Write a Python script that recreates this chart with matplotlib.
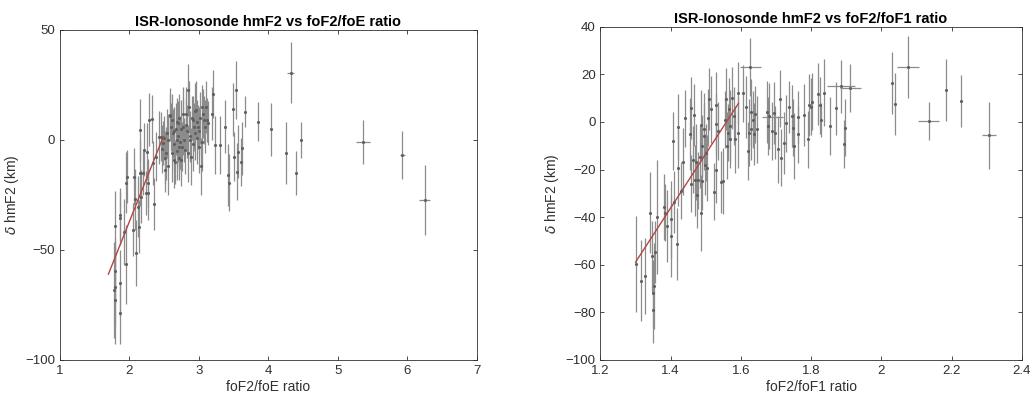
import matplotlib
matplotlib.use("Agg")
import matplotlib.pyplot as plt
import numpy as np

plt.rcParams['font.family'] = ['Liberation Sans', 'DejaVu Sans']

# ---- left panel: foF2/foE ratio ----
e_x = [1.78, 1.79, 1.79, 1.80, 1.80, 1.87, 1.87, 1.87, 1.86, 1.93, 1.95, 1.96, 1.97,
       2.05, 2.07, 2.08, 2.09, 2.13, 2.14, 2.15, 2.16, 2.17, 2.20, 2.21, 2.24, 2.26,
       2.27, 2.27, 2.29, 2.32, 2.34, 2.36, 2.39, 2.43, 2.46, 2.49, 2.51, 2.53,
       2.47, 2.50, 2.52, 2.54, 2.55, 2.56, 2.58, 2.60, 2.61, 2.62, 2.64, 2.65, 2.66,
       2.67, 2.68, 2.69, 2.70, 2.71, 2.72, 2.73, 2.74, 2.76, 2.78, 2.79, 2.81, 2.83,
       2.85, 2.86, 2.88, 2.90, 2.91, 2.93, 2.95, 2.97, 2.98, 3.00, 3.02, 3.04, 3.06,
       3.09, 3.12,
       2.58, 2.63, 2.65, 2.68, 2.70, 2.72, 2.75, 2.77, 2.80, 2.82, 2.84, 2.87, 2.89,
       2.92, 2.94, 2.96, 2.99, 3.01, 3.03, 3.05, 3.08, 3.11, 3.13, 3.20, 3.19, 3.24,
       3.31, 3.37, 3.42, 3.44, 3.49, 3.50, 3.53, 3.55, 3.56, 3.60, 3.62, 3.67, 3.85,
       4.04, 4.26, 4.32, 4.40, 4.47, 5.36, 5.93, 6.25]
e_y = [-68.2, -72.7, -39, -66.7, -59.4, -78.8, -35.6, -34, -65, -42, -56.5, -19.4, -16.7,
       -40.9, -16.7, -27, -51.2, -30.3, -39.4, -15.2, 4.5, -25.8, -15.2, -4.5, -24.2, -5.3,
       -24.2, -19.7, 9.1, 9.4, -10.6, -29.1, -7.6, 1.2, 1.5, -1.5, -13.6, -6,
       -4, 1, -8, 3, -12, 0, 11, 6, 9, -6, 4, -2, -10,
       5, 8, -5, 2, -8, 10, -1, 5, -3, 12, 0, 7, 4,
       -6, 15, 2, 10, -2, 6, 13, 1, 8, 4, 10, -1, 12,
       6, 9,
       11.4, 3, -9, 0, 7.6, -3, -9, 6, -4.5, 12, 22.7, 0, -7.6,
       9, 3, 13.6, 6, -3, -12, 15, 9, 15, 7.6, 21, 12, -2.3,
       -2.3, 6, -16, -19.4, 14, -7.6, 22.7, -14.4, -5.3, -10, -3.8, 12.9, 8.3,
       4.8, -6, 30.6, -15.2, 0, -0.9, -6.8, -27.3]
e_yerr = [22, 20, 16, 18, 15, 14, 12, 12, 15, 15, 18, 14, 12,
          12, 13, 14, 15, 14, 12, 15, 14, 12, 10, 12, 10, 13,
          12, 11, 12, 11, 10, 12, 11, 12, 11, 10, 10, 12,
          11, 10, 12, 11, 13, 12, 10, 11, 12, 13, 11, 12, 10,
          12, 11, 13, 12, 10, 11, 12, 13, 11, 12, 10, 11, 12,
          13, 12, 11, 10, 12, 11, 13, 12, 10, 11, 12, 13, 11,
          12, 10,
          12, 11, 13, 12, 10, 11, 12, 13, 11, 12, 12, 10, 13,
          11, 12, 13, 10, 12, 13, 10, 11, 12, 10, 11, 12, 13,
          13, 12, 14, 13, 12, 11, 13, 13, 12, 11, 12, 7, 9,
          12, 14, 14, 10, 8, 10, 11, 16]
e_wide_x = [4.32, 5.36, 5.93, 6.25]
e_wide_y = [30.6, -0.9, -6.8, -27.3]
e_wide_xerr = [0.05, 0.1, 0.03, 0.08]
e_fit_x = [1.70, 2.49]
e_fit_y = [-61.0, 1.5]

# ---- right panel: foF2/foF1 ratio ----
f_x = [1.300, 1.314, 1.327, 1.340, 1.346, 1.349, 1.349, 1.352, 1.354, 1.360, 1.382, 1.384,
       1.390, 1.400, 1.400, 1.406, 1.410, 1.418, 1.420, 1.422, 1.428, 1.435, 1.441, 1.455,
       1.457, 1.459, 1.464, 1.466, 1.470, 1.473, 1.474, 1.477, 1.483, 1.485, 1.487, 1.489,
       1.490, 1.494, 1.496, 1.498, 1.500, 1.503, 1.505, 1.508, 1.515, 1.523, 1.528, 1.530,
       1.534, 1.530, 1.544, 1.550, 1.555, 1.558, 1.560, 1.563, 1.566, 1.568, 1.570, 1.574,
       1.580, 1.584, 1.593, 1.593, 1.605, 1.615, 1.620, 1.624, 1.627, 1.630, 1.630, 1.634,
       1.637, 1.640, 1.646, 1.674, 1.677, 1.680, 1.688, 1.694, 1.698, 1.705, 1.710, 1.715,
       1.722, 1.729, 1.738, 1.745, 1.749, 1.751, 1.762, 1.764, 1.781, 1.790, 1.795, 1.800,
       1.803, 1.819, 1.824, 1.827, 1.836, 1.855, 1.871, 1.886, 1.893, 1.897, 1.912, 2.031,
       2.038, 2.076, 2.135, 2.185, 2.228, 2.308]
f_y = [-59.7, -66.7, -64.9, -38.2, -56.5, -72, -79, -69, -54.7, -40, -35.7, -38.2,
       -43.8, -41, -48, -8, -33.5, -51.3, -19.3, -2.1, -29, -16.7, 1.5, -5,
       6, -26, -15.8, 2.8, -24.5, -17, -30.5, -24.5, -14.6, -1.4, -38.2, -25,
       -10, -6, -3, -17.9, -13, -19.3, 1.8, 9.8, 5.3, -29.4, -20, -1,
       -3.8, 7, -25.3, -24.9, 1, 9.5, -10, -4.5, 5.3, -1.7, -7.3, 10.2,
       2.5, -7.3, 12.3, -4.5, 12, 6.4, -12.2, -4.5, 23.1, -3.1, 4, 1,
       -5.2, 3.2, -3.1, 4.3, -1.7, 2.5, -3.8, 3.9, -4.5, -11.5, 9.8, -15,
       -9, -0.6, 6.4, 2.5, -2.4, -10.1, -5.2, 2.2, 2.8, -7.3, 7, 6.4,
       8.4, 11.9, 7, 0.8, 12.3, -1.7, 5.7, 14.9, -9.4, -2.4, 14.2, 16.5,
       7.7, 22.9, 0.4, 13.3, 8.8, -5.6]
f_yerr = [20, 17, 16, 17, 15, 14, 14, 18, 13, 24, 14, 12,
          15, 16, 17, 12, 13, 15, 16, 14, 12, 14, 12, 15,
          13, 12, 14, 13, 15, 16, 14, 12, 13, 15, 16, 12,
          13, 14, 15, 13, 12, 14, 12, 13, 14, 12, 14, 13,
          12, 14, 13, 14, 12, 13, 14, 12, 13, 15, 12, 13,
          12, 14, 13, 15, 12, 13, 12, 14, 12, 13, 14, 12,
          13, 12, 14, 13, 12, 14, 12, 13, 11, 14, 12, 12,
          13, 12, 11, 13, 12, 14, 12, 11, 13, 12, 13, 12,
          12, 13, 12, 7, 14, 12, 11, 11, 10, 12, 10, 13,
          13, 13, 8, 13, 11, 14]
f_wide_x = [1.627, 1.886, 1.912, 2.076, 2.135, 2.308, 1.690]
f_wide_y = [23.1, 14.9, 14.2, 22.9, 0.4, -5.6, 2.2]
f_wide_xerr = [0.03, 0.04, 0.03, 0.03, 0.03, 0.02, 0.03]
f_fit_x = [1.300, 1.593]
f_fit_y = [-58.9, 7.8]

bar_col = '#8c8c8c'
dot_col = '#606060'
fit_col = '#b54545'
txt_col = '#303030'

fig = plt.figure(figsize=(10.3, 3.99), dpi=100)
ax1 = fig.add_axes([0.058, 0.098, 0.405, 0.827])
ax2 = fig.add_axes([0.583, 0.098, 0.409, 0.835])

panels = [
    (ax1, e_x, e_y, e_yerr, e_wide_x, e_wide_y, e_wide_xerr, e_fit_x, e_fit_y,
     'ISR-Ionosonde hmF2 vs foF2/foE ratio', 'foF2/foE ratio',
     (1, 7), np.arange(1, 8, 1), (-100, 50), [-100, -50, 0, 50]),
    (ax2, f_x, f_y, f_yerr, f_wide_x, f_wide_y, f_wide_xerr, f_fit_x, f_fit_y,
     'ISR-Ionosonde hmF2 vs foF2/foF1 ratio', 'foF2/foF1 ratio',
     (1.2, 2.4), [1.2, 1.4, 1.6, 1.8, 2.0, 2.2, 2.4], (-100, 40),
     [-100, -80, -60, -40, -20, 0, 20, 40]),
]

for (ax, x, y, yerr, wx, wy, wxerr, fx, fy, title, xlabel, xlim, xt, ylim, yt) in panels:
    ax.errorbar(x, y, yerr=yerr, fmt='.', color=dot_col, ecolor=bar_col,
                elinewidth=0.9, markersize=2.5, capsize=0)
    ax.errorbar(wx, wy, xerr=wxerr, fmt='none', ecolor=bar_col,
                elinewidth=0.9, capsize=0)
    ax.plot(fx, fy, color=fit_col, lw=1.0)

    ax.set_xlim(*xlim)
    ax.set_ylim(*ylim)
    ax.set_xticks(xt)
    ax.set_xticklabels(['%g' % t for t in xt])
    ax.set_yticks(yt)
    ax.tick_params(direction='in', top=True, right=True, labelsize=9.5,
                   colors=txt_col, length=3, width=0.6)
    for s in ax.spines.values():
        s.set_color('#303030')
        s.set_linewidth(0.6)
    ax.set_title(title, fontsize=10.5, fontweight='bold', pad=3)
    ax.set_xlabel(xlabel, fontsize=10, color=txt_col, labelpad=2)
    ax.set_ylabel(r'$\delta$ hmF2 (km)', fontsize=10, color=txt_col, labelpad=3)

fig.savefig('out.png', dpi=100)
